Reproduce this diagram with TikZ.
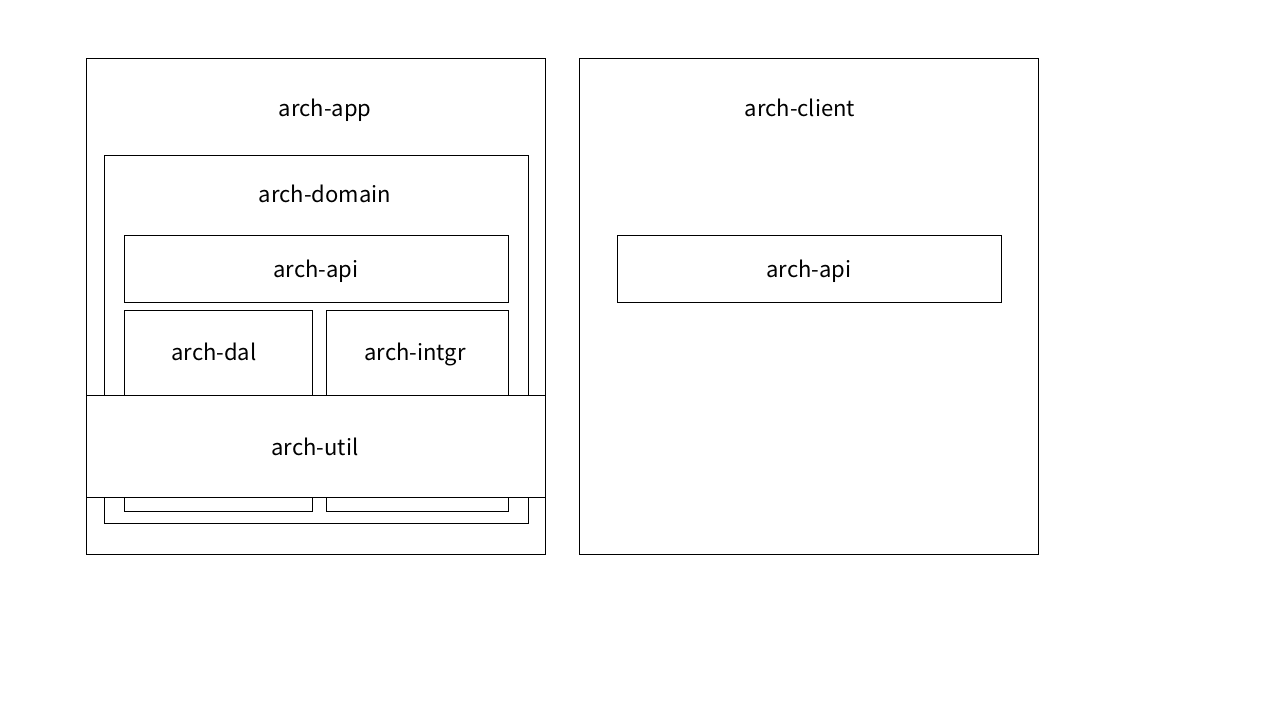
\documentclass[tikz,border=0pt]{standalone}
\usepackage{fontspec}
\setmainfont{Noto Sans CJK SC}
\begin{document}
\begin{tikzpicture}[x=1pt,y=-1pt,
  box/.style={draw, thin},
  lbl/.style={font=\fontsize{22}{26}\selectfont, inner sep=0pt,
    text height=0.75em, text depth=0.2em, yshift=-6pt}]

  \useasboundingbox (0,0) rectangle (1280,720); %% positioning

  %% arch-app side
  \draw[box] (86,58) rectangle (545,554);
  \node[lbl] (app) at (325,108) {arch-app};

  \draw[box] (104,155) rectangle (528,523);
  \node[lbl] (domain) at (325,194) {arch-domain};

  \draw[box] (124,235) rectangle (508,302);
  \node[lbl] (api) at (316,269) {arch-api};

  \draw[box] (124,310) rectangle (312,511);
  \node[lbl] (dal) at (214,352) {arch-dal};
  \draw[box] (326,310) rectangle (508,511);
  \node[lbl] (intgr) at (415,352) {arch-intgr};

  \draw[box, fill=white] (86,395) rectangle (545,497);
  \node[lbl] (util) at (315,447) {arch-util};

  %% arch-client side
  \draw[box] (579,58) rectangle (1038,554);
  \node[lbl] (client) at (800,108) {arch-client};

  \draw[box] (617,235) rectangle (1001,302);
  \node[lbl] (clientapi) at (809,269) {arch-api};

\end{tikzpicture}
\end{document}
